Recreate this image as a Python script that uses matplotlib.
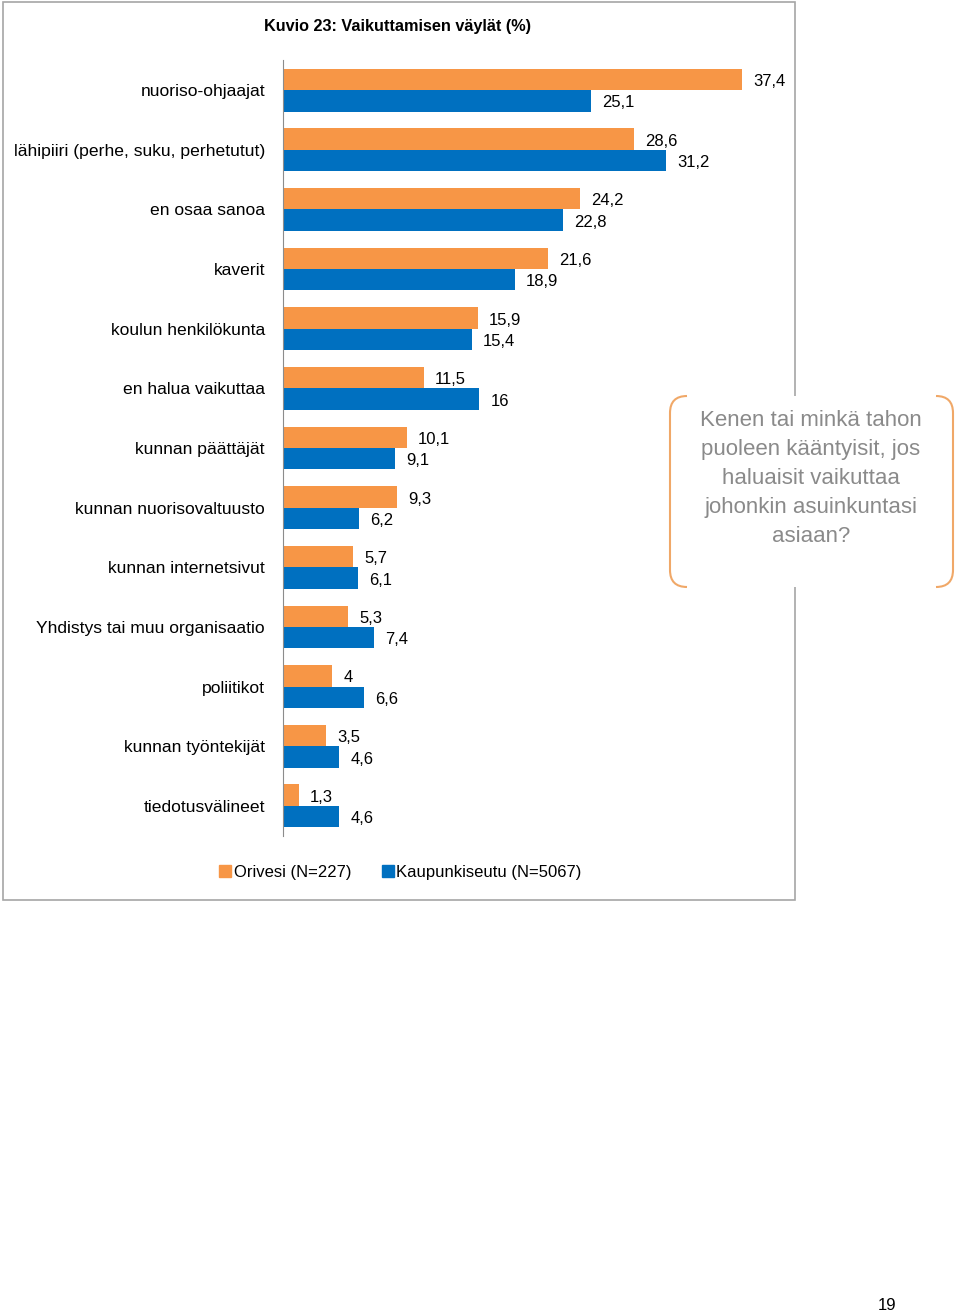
import matplotlib
matplotlib.use("Agg")
import matplotlib.pyplot as plt
from matplotlib.path import Path
from matplotlib.patches import PathPatch, Rectangle
from matplotlib.lines import Line2D

plt.rcParams['font.family'] = ['Liberation Sans', 'DejaVu Sans']

# ── Data ──────────────────────────────────────────────────────────────────────
categories = [
    "nuoriso-ohjaajat",
    "lähipiiri (perhe, suku, perhetutut)",
    "en osaa sanoa",
    "kaverit",
    "koulun henkilökunta",
    "en halua vaikuttaa",
    "kunnan päättäjät",
    "kunnan nuorisovaltuusto",
    "kunnan internetsivut",
    "Yhdistys tai muu organisaatio",
    "poliitikot",
    "kunnan työntekijät",
    "tiedotusvälineet",
]
orivesi = [37.4, 28.6, 24.2, 21.6, 15.9, 11.5, 10.1, 9.3, 5.7, 5.3, 4, 3.5, 1.3]
kaupunkiseutu = [25.1, 31.2, 22.8, 18.9, 15.4, 16, 9.1, 6.2, 6.1, 7.4, 6.6, 4.6, 4.6]
series_names = ["Orivesi (N=227)", "Kaupunkiseutu (N=5067)"]

ORANGE = "#F79646"
BLUE = "#0070C0"
W, H = 960, 1313

fig = plt.figure(figsize=(W / 100, H / 100), dpi=100)

# ── Bar chart ─────────────────────────────────────────────────────────────────
ax = fig.add_axes([283 / W, 1 - 835.8 / H, 490.8 / W, 775.6 / H])
ax.patch.set_alpha(0)
bh = 0.36
ys = list(range(len(categories)))
ax.barh([y - bh / 2 for y in ys], orivesi, height=bh, color=ORANGE)
ax.barh([y + bh / 2 for y in ys], kaupunkiseutu, height=bh, color=BLUE)

def fmt(v):
    return f"{v:g}".replace('.', ',')

for y, a, b in zip(ys, orivesi, kaupunkiseutu):
    ax.annotate(fmt(a), (a, y - bh / 2), xytext=(8, -1.5), textcoords='offset points',
                va='center', ha='left', fontsize=12)
    ax.annotate(fmt(b), (b, y + bh / 2), xytext=(8, -1.5), textcoords='offset points',
                va='center', ha='left', fontsize=12)

ax.set_xlim(0, 40)
ax.set_ylim(len(categories) - 0.5, -0.5)
ax.set_yticks(ys)
ax.set_yticklabels(categories, fontsize=12.6)
ax.tick_params(axis='y', length=0, pad=13)
ax.set_xticks([])
for s in ['top', 'right', 'bottom']:
    ax.spines[s].set_visible(False)
ax.spines['left'].set_color('#8c8c8c')

# ── Title, legend, page number ────────────────────────────────────────────────
fig.text(398 / W, 1 - 27 / H, "Kuvio 23: Vaikuttamisen väylät (%)",
         ha='center', va='center', fontsize=11.7, fontweight='bold')

handles = [Line2D([], [], marker='s', linestyle='none', markersize=8, color=c)
           for c in (ORANGE, BLUE)]
fig.legend(handles, series_names, loc='center', bbox_to_anchor=(401 / W, 1 - 872 / H),
           ncol=2, frameon=False, fontsize=12, handlelength=0.6, handletextpad=0.2,
           columnspacing=1.9)

fig.text(887 / W, 1 - 1305 / H, "19", ha='center', va='center', fontsize=12)

# ── Overlay: frame and callout ────────────────────────────────────────────────
ov = fig.add_axes([0, 0, 1, 1], zorder=5)
ov.set_xlim(0, W)
ov.set_ylim(H, 0)
ov.axis('off')
ov.patch.set_alpha(0)

ov.add_patch(Rectangle((2.5, 1.5), 792.5, 898.5, fill=False, edgecolor='#a6a6a6', lw=1.2))

x0, x1, y0, y1, r = 670, 953, 396, 587, 17
ov.add_patch(Rectangle((x0, y0), x1 - x0, y1 - y0, facecolor='white', edgecolor='none'))
left = Path([(x0 + r, y0), (x0, y0), (x0, y0 + r), (x0, y1 - r), (x0, y1), (x0 + r, y1)],
            [Path.MOVETO, Path.CURVE3, Path.CURVE3, Path.LINETO, Path.CURVE3, Path.CURVE3])
right = Path([(x1 - r, y0), (x1, y0), (x1, y0 + r), (x1, y1 - r), (x1, y1), (x1 - r, y1)],
             [Path.MOVETO, Path.CURVE3, Path.CURVE3, Path.LINETO, Path.CURVE3, Path.CURVE3])
for p in (left, right):
    ov.add_patch(PathPatch(p, fill=False, edgecolor='#F0A868', lw=1.5))

ov.text(811, 479, "Kenen tai minkä tahon\npuoleen kääntyisit, jos\nhaluaisit vaikuttaa\n"
        "johonkin asuinkuntasi\nasiaan?", ha='center', va='center', fontsize=16,
        color='#8a8a8a', linespacing=1.5)

fig.savefig("out.png", dpi=100)
